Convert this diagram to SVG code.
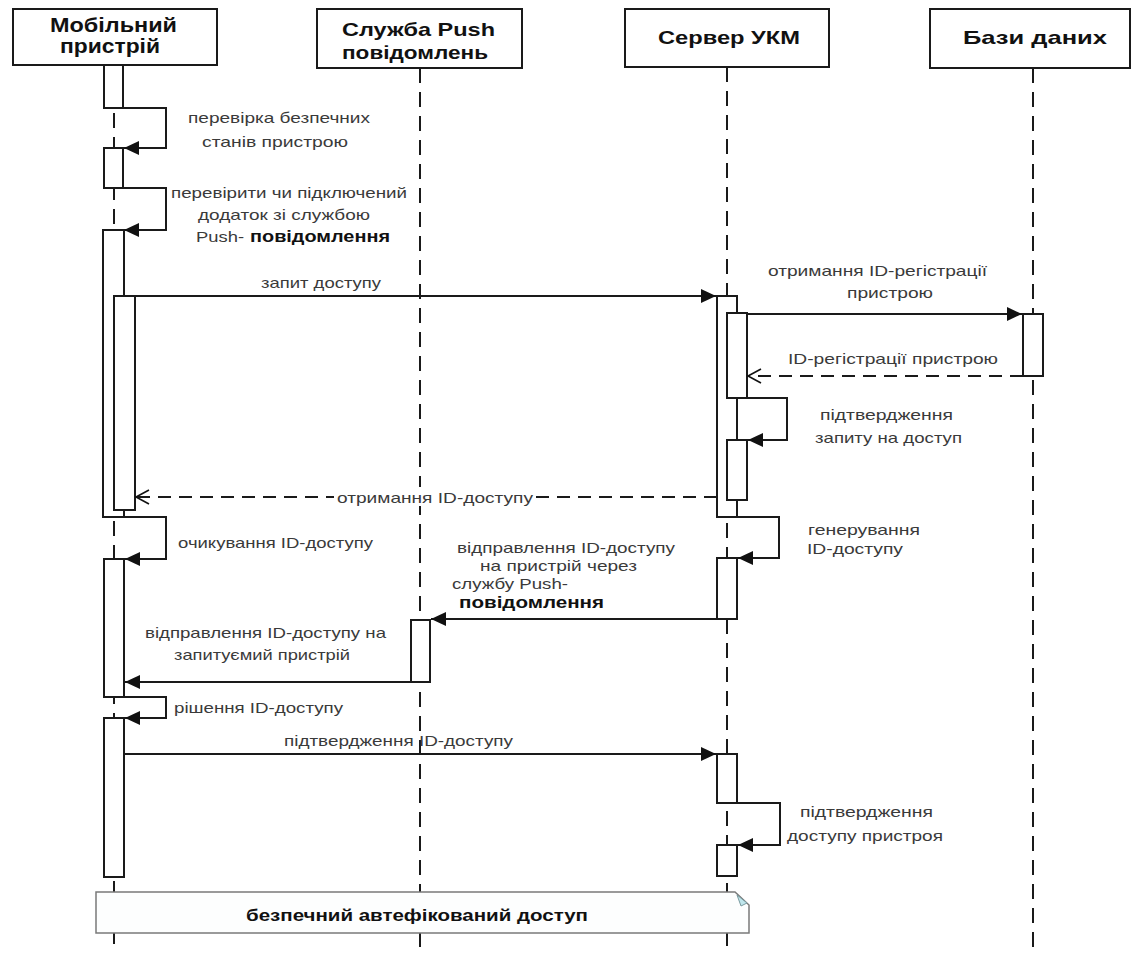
<svg xmlns="http://www.w3.org/2000/svg" width="1138" height="953" viewBox="0 0 1138 953">
  <style>
    .head { fill: #fff; stroke: #1a1a1a; stroke-width: 2; }
    .life { stroke: #1a1a1a; stroke-width: 2; stroke-dasharray: 15 9; fill: none; }
    .bar { fill: #fff; stroke: #1a1a1a; stroke-width: 2; }
    .msg { stroke: #1a1a1a; stroke-width: 2; fill: none; }
    .ret { stroke: #1a1a1a; stroke-width: 2; fill: none; stroke-dasharray: 13 8; }
    .htxt { font-family: "Liberation Sans", Arial, sans-serif; font-weight: bold; fill: #111; }
    .lbl { font-family: "Liberation Sans", Arial, sans-serif; font-size: 15px; fill: #3a3a3a; }
    .bold { font-family: "Liberation Sans", Arial, sans-serif; font-size: 16px; font-weight: bold; fill: #111; }
  </style>
  <defs>
    <marker id="solid" markerUnits="userSpaceOnUse" markerWidth="16" markerHeight="16" refX="15" refY="7" orient="auto">
      <path d="M0,0 L15,7 L0,14 Z" fill="#111"/>
    </marker>
    <marker id="open" markerUnits="userSpaceOnUse" markerWidth="16" markerHeight="18" refX="14" refY="8" orient="auto">
      <path d="M1,1 L14,8 L1,15" fill="none" stroke="#111" stroke-width="1.6"/>
    </marker>
  </defs>

  <rect width="1138" height="953" fill="#fff"/>

  <!-- Lifeline: mobile device -->
  <g id="mobile">
    <line class="life" x1="114" y1="65" x2="114" y2="953"/>
    <rect class="head" x="13" y="9" width="204" height="56"/>
    <text class="htxt" font-size="20" x="50" y="32" textLength="127" lengthAdjust="spacingAndGlyphs">Мобільний</text>
    <text class="htxt" font-size="20" x="60" y="53" textLength="100" lengthAdjust="spacingAndGlyphs">пристрій</text>
    <rect class="bar" x="104" y="65" width="19" height="43"/>
    <rect class="bar" x="104" y="148" width="19" height="40"/>
    <rect class="bar" x="103" y="230" width="21" height="287"/>
    <rect class="bar" x="114" y="296" width="21" height="214"/>
    <rect class="bar" x="104" y="559" width="20" height="138"/>
    <rect class="bar" x="104" y="718" width="20" height="159"/>
  </g>

  <!-- Lifeline: push notification service -->
  <g id="push">
    <line class="life" x1="420" y1="68" x2="420" y2="953"/>
    <rect class="head" x="317" y="9" width="205" height="59"/>
    <text class="htxt" font-size="19" x="342" y="36" textLength="153" lengthAdjust="spacingAndGlyphs">Служба Push</text>
    <text class="htxt" font-size="19" x="342" y="59" textLength="146" lengthAdjust="spacingAndGlyphs">повідомлень</text>
    <rect class="bar" x="411" y="620" width="19" height="62"/>
  </g>

  <!-- Lifeline: UKM server -->
  <g id="server">
    <line class="life" x1="727" y1="67" x2="727" y2="953"/>
    <rect class="head" x="625" y="9" width="204" height="58"/>
    <text class="htxt" font-size="19" x="658" y="44" textLength="142" lengthAdjust="spacingAndGlyphs">Сервер УКМ</text>
    <rect class="bar" x="717" y="296" width="20" height="221"/>
    <rect class="bar" x="727" y="313" width="20" height="85"/>
    <rect class="bar" x="727" y="440" width="20" height="60"/>
    <rect class="bar" x="717" y="558" width="20" height="61"/>
    <rect class="bar" x="717" y="754" width="20" height="49"/>
    <rect class="bar" x="717" y="845" width="20" height="31"/>
  </g>

  <!-- Lifeline: databases -->
  <g id="db">
    <line class="life" x1="1033" y1="68" x2="1033" y2="953"/>
    <rect class="head" x="930" y="9" width="200" height="59"/>
    <text class="htxt" font-size="19" x="963" y="44" textLength="144" lengthAdjust="spacingAndGlyphs">Бази даних</text>
    <rect class="bar" x="1023" y="314" width="20" height="62"/>
  </g>

  <!-- Messages -->
  <g id="connectors">
    <polyline class="msg" points="123,108 166,108 166,148 124,148" marker-end="url(#solid)"/>
    <text class="lbl" x="188" y="123" textLength="182" lengthAdjust="spacingAndGlyphs">перевірка безпечних</text>
    <text class="lbl" x="202" y="147" textLength="146" lengthAdjust="spacingAndGlyphs">станів пристрою</text>

    <polyline class="msg" points="123,188 166,188 166,230 124,230" marker-end="url(#solid)"/>
    <text class="lbl" x="171" y="198" textLength="236" lengthAdjust="spacingAndGlyphs">перевірити чи підключений</text>
    <text class="lbl" x="198" y="220" textLength="172" lengthAdjust="spacingAndGlyphs">додаток зі службою</text>
    <text class="lbl" x="196" y="242" textLength="48" lengthAdjust="spacingAndGlyphs">Push-</text>
    <text class="bold" x="250" y="242" textLength="140" lengthAdjust="spacingAndGlyphs">повідомлення</text>

    <line class="msg" x1="124" y1="296" x2="716" y2="296" marker-end="url(#solid)"/>
    <text class="lbl" x="261" y="288" textLength="120" lengthAdjust="spacingAndGlyphs">запит доступу</text>

    <line class="msg" x1="747" y1="314" x2="1022" y2="314" marker-end="url(#solid)"/>
    <text class="lbl" x="768" y="276" textLength="219" lengthAdjust="spacingAndGlyphs">отримання ID-регістрації</text>
    <text class="lbl" x="847" y="298" textLength="86" lengthAdjust="spacingAndGlyphs">пристрою</text>

    <line class="ret" x1="1023" y1="376" x2="748" y2="376" marker-end="url(#open)"/>
    <text class="lbl" x="788" y="364" textLength="210" lengthAdjust="spacingAndGlyphs">ID-регістрації пристрою</text>

    <polyline class="msg" points="747,398 787,398 787,440 748,440" marker-end="url(#solid)"/>
    <text class="lbl" x="820" y="420" textLength="133" lengthAdjust="spacingAndGlyphs">підтвердження</text>
    <text class="lbl" x="815" y="443" textLength="147" lengthAdjust="spacingAndGlyphs">запиту на доступ</text>

    <line class="ret" x1="717" y1="497" x2="136" y2="497" marker-end="url(#open)"/>
    <rect x="334" y="487" width="202" height="19" fill="#fff"/>
    <text class="lbl" x="337" y="503" textLength="196" lengthAdjust="spacingAndGlyphs">отримання ID-доступу</text>

    <polyline class="msg" points="737,517 779,517 779,558 738,558" marker-end="url(#solid)"/>
    <text class="lbl" x="808" y="535" textLength="112" lengthAdjust="spacingAndGlyphs">генерування</text>
    <text class="lbl" x="807" y="554" textLength="96" lengthAdjust="spacingAndGlyphs">ID-доступу</text>

    <polyline class="msg" points="124,517 166,517 166,559 125,559" marker-end="url(#solid)"/>
    <text class="lbl" x="178" y="548" textLength="195" lengthAdjust="spacingAndGlyphs">очикування ID-доступу</text>

    <line class="msg" x1="717" y1="619" x2="431" y2="619" marker-end="url(#solid)"/>
    <text class="lbl" x="457" y="553" textLength="218" lengthAdjust="spacingAndGlyphs">відправлення ID-доступу</text>
    <text class="lbl" x="480" y="571" textLength="157" lengthAdjust="spacingAndGlyphs">на пристрій через</text>
    <text class="lbl" x="452" y="589" textLength="116" lengthAdjust="spacingAndGlyphs">службу Push-</text>
    <text class="bold" x="459" y="608" textLength="145" lengthAdjust="spacingAndGlyphs">повідомлення</text>

    <line class="msg" x1="411" y1="682" x2="125" y2="682" marker-end="url(#solid)"/>
    <text class="lbl" x="145" y="638" textLength="241" lengthAdjust="spacingAndGlyphs">відправлення ID-доступу на</text>
    <text class="lbl" x="174" y="660" textLength="176" lengthAdjust="spacingAndGlyphs">запитуємий пристрій</text>

    <polyline class="msg" points="124,697 166,697 166,718 125,718" marker-end="url(#solid)"/>
    <text class="lbl" x="174" y="713" textLength="169" lengthAdjust="spacingAndGlyphs">рішення ID-доступу</text>

    <line class="msg" x1="124" y1="754" x2="716" y2="754" marker-end="url(#solid)"/>
    <text class="lbl" x="284" y="746" textLength="229" lengthAdjust="spacingAndGlyphs">підтвердження ID-доступу</text>

    <polyline class="msg" points="737,803 780,803 780,845 738,845" marker-end="url(#solid)"/>
    <text class="lbl" x="800" y="817" textLength="133" lengthAdjust="spacingAndGlyphs">підтвердження</text>
    <text class="lbl" x="787" y="841" textLength="156" lengthAdjust="spacingAndGlyphs">доступу пристроя</text>
  </g>

  <!-- Closing note across the lifelines -->
  <g id="note">
    <path d="M96,892 H735 L749,905 V933 H96 Z" fill="#fdfefe" stroke="#7a7a7a" stroke-width="1.5"/>
    <path d="M737,895 L747,903 L741,906 Z" fill="#bfe6ec" stroke="#7a9a9f" stroke-width="1"/>
    <text class="bold" x="246" y="921" textLength="342" lengthAdjust="spacingAndGlyphs">безпечний автефікований доступ</text>
  </g>
</svg>
